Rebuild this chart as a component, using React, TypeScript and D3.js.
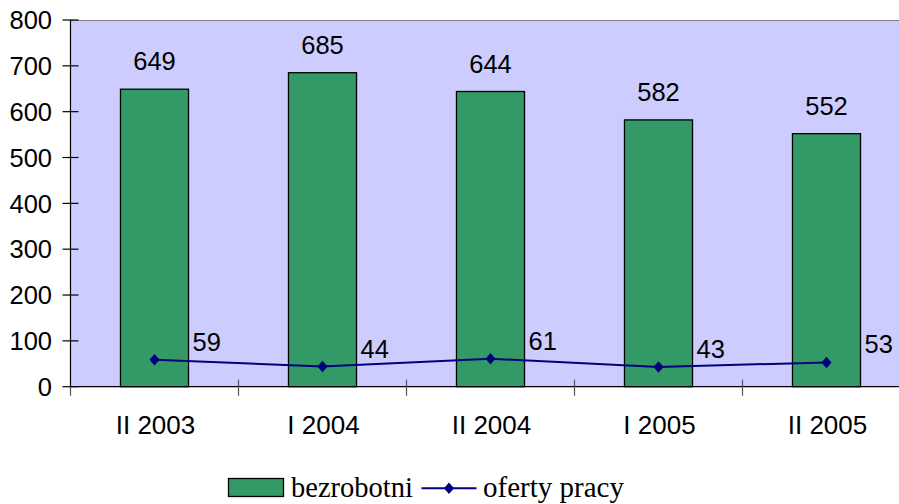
import React, { useEffect, useRef } from 'react';
import * as d3 from 'd3';

const categories = ['II 2003', 'I 2004', 'II 2004', 'I 2005', 'II 2005'];
const bezrobotni = [649, 685, 644, 582, 552];
const ofertyPracy = [59, 44, 61, 43, 53];
const yTicks = [0, 100, 200, 300, 400, 500, 600, 700, 800];

const width = 899;
const height = 504;
const plot = { left: 70.5, top: 20, right: 910.5, bottom: 386.7 };
const sansFont = 'Arial, "Liberation Sans", sans-serif';
const serifFont = '"Times New Roman", "Liberation Serif", serif';

export default function App() {
  const svgRef = useRef<SVGSVGElement>(null);

  useEffect(() => {
    if (!svgRef.current) return;
    const svg = d3.select(svgRef.current);
    svg.selectAll('*').remove();

    const x = d3
      .scaleBand<string>()
      .domain(categories)
      .range([plot.left, plot.right])
      .paddingInner(0.595)
      .paddingOuter(0.2975);
    const step = x.step();

    const y = d3.scaleLinear().domain([0, 800]).range([plot.bottom, plot.top]);

    // plot background
    svg
      .append('rect')
      .attr('x', plot.left)
      .attr('y', plot.top)
      .attr('width', plot.right - plot.left)
      .attr('height', plot.bottom - plot.top)
      .attr('fill', '#CCCCFF');

    // top border
    svg
      .append('line')
      .attr('x1', plot.left)
      .attr('x2', plot.right)
      .attr('y1', plot.top + 0.5)
      .attr('y2', plot.top + 0.5)
      .attr('stroke', '#808080')
      .attr('stroke-width', 1.2);

    // bars
    svg
      .selectAll('rect.bar')
      .data(bezrobotni)
      .enter()
      .append('rect')
      .attr('class', 'bar')
      .attr('x', (_, i) => x(categories[i])!)
      .attr('y', (d) => y(d))
      .attr('width', x.bandwidth())
      .attr('height', (d) => plot.bottom - y(d))
      .attr('fill', '#339966')
      .attr('stroke', '#000')
      .attr('stroke-width', 1.3);

    // bar labels
    svg
      .selectAll('text.barLabel')
      .data(bezrobotni)
      .enter()
      .append('text')
      .attr('x', (_, i) => x(categories[i])! + x.bandwidth() / 2)
      .attr('y', (d) => y(d) - 19)
      .attr('text-anchor', 'middle')
      .attr('font-family', sansFont)
      .attr('font-size', '25.5px')
      .text((d) => d);

    // y axis
    svg
      .append('line')
      .attr('x1', plot.left)
      .attr('x2', plot.left)
      .attr('y1', plot.top)
      .attr('y2', plot.bottom)
      .attr('stroke', '#000')
      .attr('stroke-width', 1.2);

    const yAxis = svg.append('g');
    yTicks.forEach((t) => {
      yAxis
        .append('line')
        .attr('x1', plot.left - 8)
        .attr('x2', plot.left + 8)
        .attr('y1', y(t))
        .attr('y2', y(t))
        .attr('stroke', '#000')
        .attr('stroke-width', 1.2);
      yAxis
        .append('text')
        .attr('x', 52)
        .attr('y', y(t))
        .attr('dy', '0.36em')
        .attr('text-anchor', 'end')
        .attr('font-family', sansFont)
        .attr('font-size', '25.5px')
        .text(t);
    });

    // x axis
    svg
      .append('line')
      .attr('x1', plot.left)
      .attr('x2', plot.right)
      .attr('y1', plot.bottom)
      .attr('y2', plot.bottom)
      .attr('stroke', '#000')
      .attr('stroke-width', 1.3);

    d3.range(categories.length + 1).forEach((i) => {
      const tx = plot.left + i * step;
      svg
        .append('line')
        .attr('x1', tx)
        .attr('x2', tx)
        .attr('y1', i === 0 ? plot.bottom : plot.bottom - 7)
        .attr('y2', plot.bottom + 9)
        .attr('stroke', '#555')
        .attr('stroke-width', 1.2);
    });

    svg
      .selectAll('text.xLabel')
      .data(categories)
      .enter()
      .append('text')
      .attr('x', (d) => x(d)! + x.bandwidth() / 2 + 1)
      .attr('y', 434)
      .attr('text-anchor', 'middle')
      .attr('font-family', sansFont)
      .attr('font-size', '26px')
      .text((d) => d);

    // line series
    const cx = (i: number) => x(categories[i])! + x.bandwidth() / 2;
    const line = d3
      .line<number>()
      .x((_, i) => cx(i))
      .y((d) => y(d));

    svg
      .append('path')
      .datum(ofertyPracy)
      .attr('fill', 'none')
      .attr('stroke', '#000080')
      .attr('stroke-width', 2)
      .attr('d', line);

    const diamond = d3.symbol().type(d3.symbolDiamond2).size(84);
    svg
      .selectAll('path.marker')
      .data(ofertyPracy)
      .enter()
      .append('path')
      .attr('transform', (d, i) => `translate(${cx(i)},${y(d)}) scale(0.88,1)`)
      .attr('d', diamond)
      .attr('fill', '#000080');

    svg
      .selectAll('text.lineLabel')
      .data(ofertyPracy)
      .enter()
      .append('text')
      .attr('x', (_, i) => cx(i) + 38)
      .attr('y', (d) => y(d) - 9)
      .attr('font-family', sansFont)
      .attr('font-size', '25.5px')
      .text((d) => d);

    // legend
    const legend = svg.append('g');
    legend
      .append('rect')
      .attr('x', 228.5)
      .attr('y', 478.5)
      .attr('width', 55)
      .attr('height', 18)
      .attr('fill', '#339966')
      .attr('stroke', '#000')
      .attr('stroke-width', 1.3);
    legend
      .append('text')
      .attr('x', 291)
      .attr('y', 497)
      .attr('font-family', serifFont)
      .attr('font-size', '28.5px')
      .text('bezrobotni');
    legend
      .append('line')
      .attr('x1', 421.5)
      .attr('x2', 476.5)
      .attr('y1', 488.3)
      .attr('y2', 488.3)
      .attr('stroke', '#000080')
      .attr('stroke-width', 2);
    legend
      .append('path')
      .attr('transform', 'translate(449,488.3) scale(0.88,1)')
      .attr('d', diamond)
      .attr('fill', '#000080');
    legend
      .append('text')
      .attr('x', 483)
      .attr('y', 497)
      .attr('font-family', serifFont)
      .attr('font-size', '29px')
      .text('oferty pracy');
  }, []);

  return (
    <svg
      ref={svgRef}
      width={width}
      height={height}
      style={{ position: 'absolute', left: 0, top: 0, background: '#fff' }}
    />
  );
}
